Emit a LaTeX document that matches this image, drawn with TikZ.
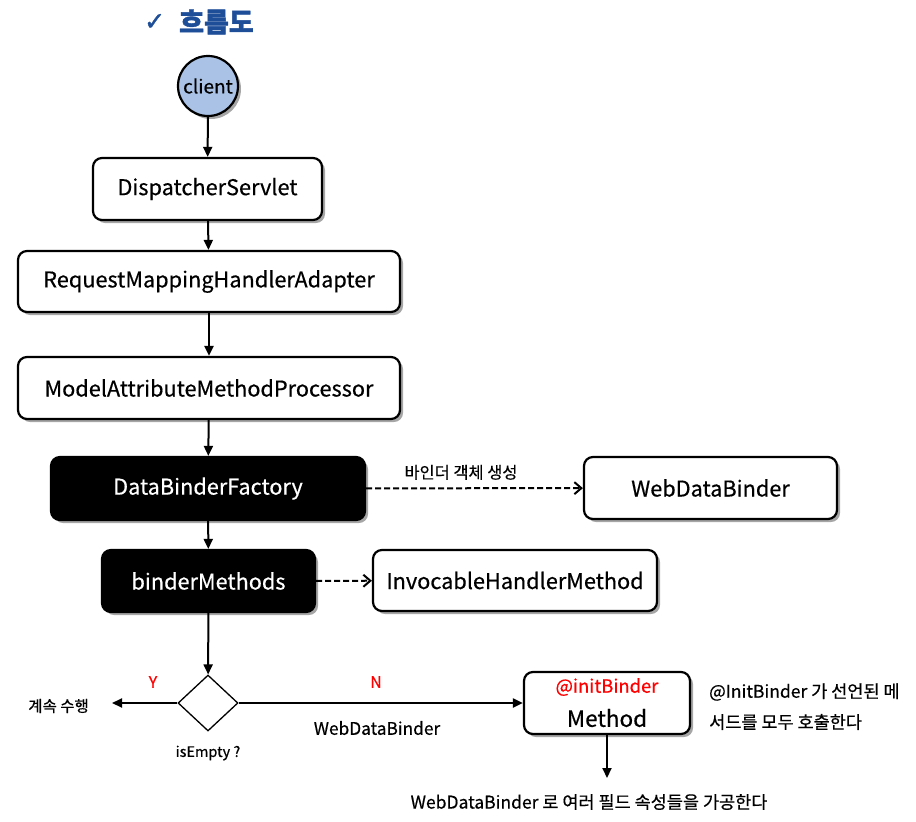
\documentclass[tikz,border=0pt]{standalone}
\usepackage{fontspec}
\setmainfont{Noto Sans CJK KR}[FakeBold=0.5]
\newfontfamily\titlefont{Noto Sans CJK KR}[FakeBold=1.5]
\newfontfamily\checkfont{DejaVu Sans}[FakeBold=1.5]
\usetikzlibrary{shadows,shapes.geometric,arrows.meta}
\definecolor{titleblue}{HTML}{1F4E99}
\definecolor{clientfill}{HTML}{A9C2E6}
\begin{document}
\begin{tikzpicture}[x=1pt,y=-1pt,
  shad/.style={drop shadow={shadow xshift=3pt,shadow yshift=-3pt,opacity=0.35,fill=black}},
  wbox/.style={draw=black,line width=2.2pt,rounded corners=9pt,fill=white,shad,font=\fontsize{21.7}{25}\selectfont,inner sep=0pt},
  bbox/.style={wbox,fill=black,text=white},
  arr/.style={line width=2pt,-{Triangle[length=10pt,width=9pt]}},
  darr/.style={line width=2pt,dash pattern=on 6pt off 3pt,-{Straight Barb[length=7pt,width=12pt,line width=2pt]}},
  lbl/.style={font=\fontsize{16}{19}\selectfont,inner sep=0pt},
  red/.style={text={rgb,255:red,255;green,0;blue,0}}
]
\useasboundingbox (0,0) rectangle (916,822);
\node[font=\fontsize{25}{28}\checkfont,text=titleblue,anchor=west,inner sep=0pt] (chk) at (144,22) {✓};
\node[font=\fontsize{27}{30}\titlefont\bfseries,text=titleblue,anchor=west,inner sep=0pt] (title) at (179,22) {흐름도};
\node[circle,draw=black,line width=2.2pt,fill=clientfill,minimum size=60pt,inner sep=0pt,shad,font=\fontsize{19}{22}\selectfont] (client) at (208,86) {client};
\node[wbox,minimum width=229pt,minimum height=62pt] (ds) at (207.5,189) {DispatcherServlet};
\node[wbox,minimum width=382pt,minimum height=61pt] (rmha) at (209,281.5) {RequestMappingHandlerAdapter};
\node[wbox,minimum width=382pt,minimum height=62pt] (mamp) at (209,388) {ModelAttributeMethodProcessor};
\node[bbox,minimum width=314pt,minimum height=63pt] (dbf) at (208,488.5) {DataBinderFactory};
\node[wbox,minimum width=253pt,minimum height=62pt] (wdb) at (710.5,488) {WebDataBinder};
\node[bbox,minimum width=213pt,minimum height=62pt] (bm) at (208.5,581) {binderMethods};
\node[wbox,minimum width=284pt,minimum height=61pt] (ihm) at (515,580.5) {InvocableHandlerMethod};
\node[diamond,draw=black,line width=1.3pt,minimum width=60pt,minimum height=56pt,inner sep=0pt] (dia) at (208,703) {};
\node[wbox,minimum width=166pt,minimum height=62pt] (meth) at (607,703) {};
\node[lbl,font=\fontsize{18.4}{21}\selectfont,red] (ib) at (607,687) {@initBinder};
\node[inner sep=0pt,font=\fontsize{22.5}{26}\selectfont] (mt) at (607,718) {Method};
\coordinate (cont) at (112,703);
\coordinate (mend) at (607,778);
\draw[arr] (client) -- (ds);
\draw[arr] (ds) -- (rmha);
\draw[arr] (rmha) -- (mamp);
\draw[arr] (mamp) -- (dbf);
\draw[arr] (dbf) -- (bm);
\draw[arr] (bm) -- (dia);
\draw[darr] (dbf) -- (wdb);
\draw[darr] (bm) -- (ihm);
\draw[arr] (dia.west) -- (cont);
\draw[arr] (dia.east) -- (meth.west);
\draw[arr] (meth.south) -- (mend);
\node[lbl,anchor=south,font=\fontsize{16.4}{19}\selectfont] (l1) at (461,480) {바인더 객체 생성};
\node[lbl,anchor=east,font=\fontsize{15.5}{19}\selectfont] (l2) at (89,706) {계속 수행};
\node[lbl,red] (ly) at (153,682) {Y};
\node[lbl,red] (ln) at (376,682) {N};
\node[lbl,font=\fontsize{17.3}{20}\selectfont] (l3) at (377,728) {WebDataBinder};
\node[lbl,font=\fontsize{14.5}{17}\selectfont] (l4) at (208,753) {isEmpty ?};
\node[lbl,anchor=west,font=\fontsize{17.5}{20}\selectfont] (l5) at (709,692) {@InitBinder 가 선언된 메};
\node[lbl,anchor=west,font=\fontsize{17.5}{20}\selectfont] (l6) at (709,722) {서드를 모두 호출한다};
\node[lbl,font=\fontsize{17.5}{20}\selectfont] (l7) at (589,802) {WebDataBinder 로 여러 필드 속성들을 가공한다};
\end{tikzpicture}
\end{document}
